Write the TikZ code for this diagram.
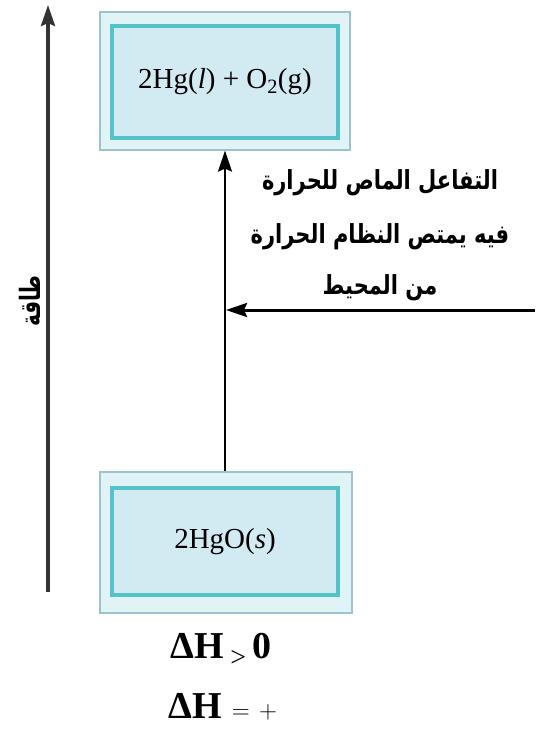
\documentclass[tikz,border=0pt]{standalone}
\usepackage{fontspec}
\setmainfont{Liberation Serif}
\newfontfamily\arabicfont[Script=Arabic]{DejaVu Sans}
\TeXXeTstate=1
\usetikzlibrary{arrows.meta}

\definecolor{frameline}{HTML}{9CC3CE}
\definecolor{framefill}{HTML}{E0F4F8}
\definecolor{boxline}{HTML}{55C2C9}
\definecolor{boxfill}{HTML}{D2EAF2}

\tikzset{
	energyframe/.style={draw=frameline, fill=framefill, line width=1.2pt},
	energybox/.style={draw=boxline, fill=boxfill, line width=3.5pt, font=\fontsize{29}{32}\selectfont},
	arabiclabel/.style={font=\arabicfont\bfseries\fontsize{21}{24}\selectfont, yscale=1.25, transform shape},
	bigtip/.style={-{Stealth[length=21pt, width=14pt, inset=3pt]}},
}

\begin{document}
\begin{tikzpicture}[
x=1pt,
y=-1pt,
]
	\useasboundingbox (0,0) rectangle (549,730);
	
	%%%%%%%%%%%%%%%%%%%%%%%%%%%%
	%Energieachse
	%%%%%%%%%%%%%%%%%%%%%%%%%%%%
	
	\coordinate (axisbot) at (48,592);
	\coordinate (axistop) at (48,5);
	\draw [black!80, line width=3.5pt, bigtip] (axisbot) -- (axistop);
	\node (energy) [font=\arabicfont\bfseries\fontsize{20}{24}\selectfont, rotate=90, yscale=1.4, transform shape] at (30,301) {\beginR طاقة\endR};
	
	%%%%%%%%%%%%%%%%%%%%%%%%%%%%
	%Kaesten
	%%%%%%%%%%%%%%%%%%%%%%%%%%%%
	
	\node (topframe) [energyframe, minimum width=250, minimum height=138] at (225,81) {};
	\node (top) [energybox, minimum width=226, minimum height=112] at (225,82) {2Hg(\textit{l}) + O\textsubscript{2}(g)};
	
	\node (botframe) [energyframe, minimum width=252, minimum height=141] at (226,542.5) {};
	\node (bot) [energybox, minimum width=226, minimum height=107] at (225,541.5) {2HgO(\textit{s})};
	
	%%%%%%%%%%%%%%%%%%%%%%%%%%%%
	%Pfeile
	%%%%%%%%%%%%%%%%%%%%%%%%%%%%
	
	\draw [line width=2pt, bigtip] (botframe.north -| topframe.south) -- (topframe.south);
	
	\coordinate (heatin) at (535,310);
	\draw [line width=3pt, bigtip] (heatin) -- ([xshift=1] heatin -| topframe.south);
	
	\node (line1) [arabiclabel] at (380,183) {\beginR التفاعل الماص للحرارة\endR};
	\node (line2) [arabiclabel] at (380,237) {\beginR فيه يمتص النظام الحرارة\endR};
	\node (line3) [arabiclabel] at (380,288) {\beginR من المحيط\endR};
	
	%%%%%%%%%%%%%%%%%%%%%%%%%%%%
	%Enthalpie
	%%%%%%%%%%%%%%%%%%%%%%%%%%%%
	
	\node (dhpos) [font=\fontsize{38}{42}\selectfont\bfseries] at (221,650) {ΔH\,\raisebox{-8pt}{\fontsize{28}{30}\selectfont\mdseries >}\,0};
	\node (dhsign) [font=\fontsize{38}{42}\selectfont] at (223,707) {\textbf{ΔH} $=$ $+$};
	
\end{tikzpicture}
\end{document}
